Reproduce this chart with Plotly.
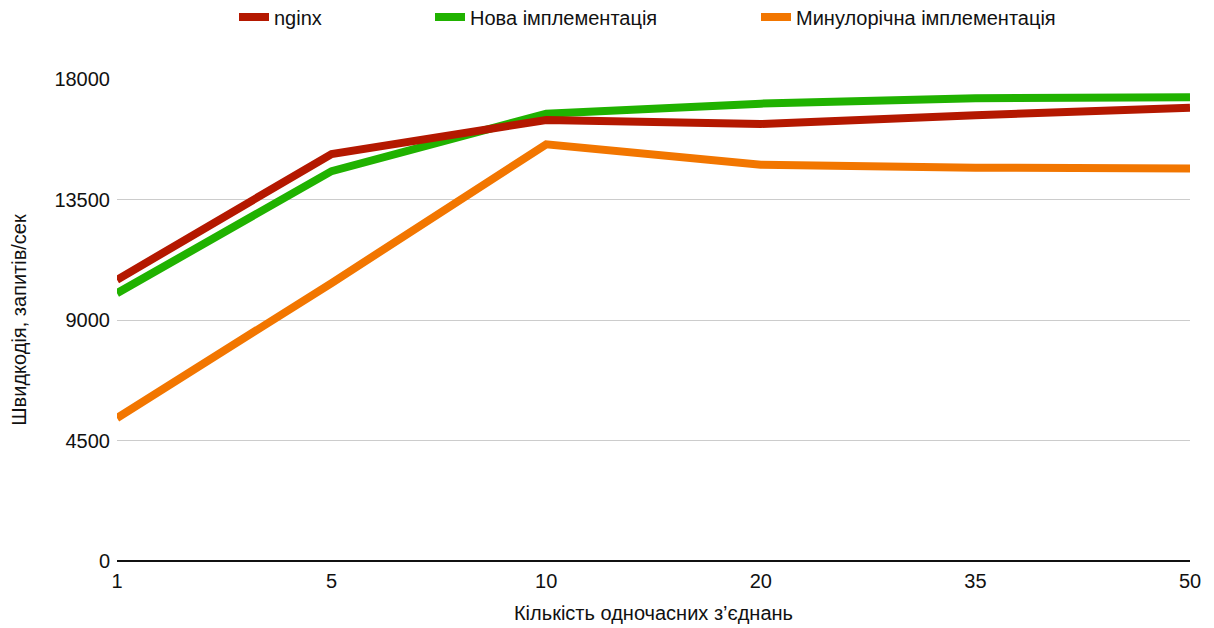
import plotly.graph_objects as go

categories = ["1", "5", "10", "20", "35", "50"]
nginx = [10500, 15200, 16470, 16320, 16650, 16930]
new_impl = [10000, 14560, 16700, 17080, 17280, 17320]
last_year = [5340, 10380, 15560, 14800, 14690, 14660]
y_ticks = [0, 4500, 9000, 13500, 18000]

FONT = "Liberation Sans, Arial, sans-serif"
FS = 20
W, H = 1206, 620

fig = go.Figure()
fig.add_trace(go.Scatter(x=categories, y=last_year, mode="lines", name="Минулорічна імплементація",
                         line=dict(color="rgb(242,118,0)", width=8), legend="legend3"))
fig.add_trace(go.Scatter(x=categories, y=new_impl, mode="lines", name="Нова імплементація",
                         line=dict(color="rgb(32,178,0)", width=8), legend="legend2"))
fig.add_trace(go.Scatter(x=categories, y=nginx, mode="lines", name="nginx",
                         line=dict(color="rgb(180,24,0)", width=8), legend="legend"))

def leg(xpx):
    return dict(x=xpx / W, y=1 - 9 / H, xref="container", yref="container", xanchor="left", yanchor="middle",
                orientation="h", font=dict(family=FONT, size=FS, color="#111"), bgcolor="rgba(0,0,0,0)")

fig.update_layout(
    width=W, height=H,
    margin=dict(l=109, r=24, t=71, b=67),
    paper_bgcolor="white", plot_bgcolor="white",
    font=dict(family=FONT, size=FS, color="#111"),
    legend=leg(226), legend2=leg(422), legend3=leg(748),
    showlegend=True,
)
fig.update_xaxes(type="category", range=[0, 5], showgrid=False, showline=False, zeroline=False,
                 automargin=False,
                 ticks="", ticklabelstandoff=6, tickfont=dict(family=FONT, size=FS, color="#111"),
                 title=dict(text="Кількість одночасних з’єднань", font=dict(family=FONT, size=FS, color="#111"), standoff=14))
fig.update_yaxes(range=[0, 18000], tickvals=y_ticks, ticktext=[str(v) for v in y_ticks],
                 showgrid=True, gridcolor="#cccccc", gridwidth=1, automargin=False,
                 zeroline=True, zerolinecolor="#111", zerolinewidth=2, showline=False,
                 ticks="", ticklabelstandoff=6, tickfont=dict(family=FONT, size=FS, color="#111"),
                 title=dict(text="Швидкодія, запитів/сек", font=dict(family=FONT, size=FS, color="#111"), standoff=22))

fig.write_html("out.html")
